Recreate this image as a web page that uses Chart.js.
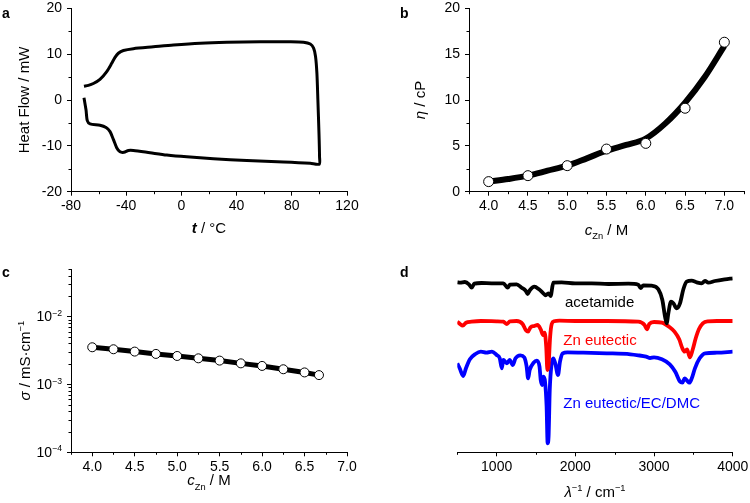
<!DOCTYPE html>
<html><head><meta charset="utf-8">
<script src="https://cdn.jsdelivr.net/npm/chart.js@4/dist/chart.umd.min.js"></script>
<style>
html,body{margin:0;padding:0;background:#fff;overflow:hidden;width:750px;height:503px;position:relative;}
.p{position:absolute;}
</style></head><body>
<div class="p" style="left:0;top:-10px;width:375px;height:260px"><canvas id="ca" width="375" height="260"></canvas></div>
<div class="p" style="left:375px;top:-10px;width:375px;height:260px"><canvas id="cb" width="375" height="260"></canvas></div>
<div class="p" style="left:0;top:250px;width:375px;height:253px"><canvas id="cc" width="375" height="253"></canvas></div>
<div class="p" style="left:375px;top:250px;width:395px;height:253px"><canvas id="cd" width="395" height="253"></canvas></div>
<script>
// ---------- Panel a: DSC heat flow loop ----------
const dscTemp = [-70.6,-69.1,-68.2,-66.2,-59.0,-54.6,-51.7,-49.3,-46.9,-44.5,-41.6,-38.4,-34.8,-22.7,-10.6,3.9,23.2,47.4,74.0,93.4,99.9,
  100.1,99.7,98.9,98.2,97.2,95.8,93.4,88.5,78.9,57.1,32.9,13.6,-5.8,-20.3,-34.8,-42.0,-45.7,-48.1,-50.5,-54.1,-59.0,-63.8,-67.4,-70.6];
const dscHeat = [0.5,-2.2,-4.5,-5.2,-5.5,-6.0,-6.9,-8.6,-10.4,-11.3,-11.4,-11.0,-11.0,-11.5,-12.0,-12.4,-12.8,-13.2,-13.5,-13.8,-14.0,
  -12.4,-7.3,0.0,5.8,9.5,11.3,12.2,12.6,12.7,12.7,12.6,12.4,12.0,11.6,11.2,10.8,10.2,9.3,8.0,6.2,4.5,3.6,3.2,3.0];
const aTempTicks = [-80,-40,0,40,80,120];
const aHeatTicks = [-20,-10,0,10,20];

// ---------- Panel b: viscosity ----------
const bConc = [4.0,4.5,5.0,5.5,6.0,6.5,7.0];
const bVisc = [1.1,1.75,2.84,4.65,5.27,9.1,16.3];
const bFitConc = [4.0,4.25,4.5,4.75,5.0,5.25,5.5,5.75,6.0,6.25,6.5,6.75,7.0];
const bFitVisc = [1.09,1.38,1.75,2.29,2.84,3.64,4.47,5.1,5.8,7.45,9.7,12.5,15.9];
const bConcTicks = [4.0,4.5,5.0,5.5,6.0,6.5,7.0];
const bViscTicks = [0,5,10,15,20];

// ---------- Panel c: conductivity ----------
const cConc = [4.0,4.25,4.5,4.75,5.0,5.25,5.5,5.75,6.0,6.25,6.5,6.67];
const cCond = [3.52e-3,3.29e-3,3.04e-3,2.81e-3,2.62e-3,2.42e-3,2.24e-3,2.04e-3,1.87e-3,1.67e-3,1.50e-3,1.37e-3];
const cConcTicks = [4.0,4.5,5.0,5.5,6.0,6.5,7.0];
const cCondTicks = [1e-4,1e-3,1e-2];

// ---------- Panel d: IR spectra (offset, arbitrary units) ----------
const acetamideX = [500,534,597,648,682,716,809,936,1085,1140,1169,1254,1318,1369,1394,1424,1479,1538,1593,1623,1657,1686,1720,1826,1996,2207,2419,2674,2801,2830,2864,2970,3055,3106,3140,3161,3182,3216,3246,3288,3330,3373,3415,3479,3542,3606,3648,3690,3775,3902,4000];
const acetamideY = [170,169.6,170.3,168,164.6,168.6,169.3,169,169,164.6,167.6,168,164.6,161.6,158.3,162.3,165.6,163,159,157,159,156.3,169.6,170,169,169,168.3,168.6,167.6,164.3,167,166.6,163,152.3,135.6,129,139,150.6,149,144,149,163,170.6,171.6,170,169,171.3,169.6,171.3,173,174];
const eutecticX = [500,534,570,610,680,800,1000,1085,1130,1170,1254,1330,1370,1400,1430,1480,1520,1560,1590,1610,1630,1645,1660,1680,1700,1730,1800,2000,2400,2800,2880,2910,2940,3000,3100,3200,3260,3320,3360,3390,3420,3455,3490,3530,3570,3620,3680,3800,4000];
const eutecticY = [130.6,128.3,126.6,129.6,130.6,131.3,131,130.6,128.3,131,131.3,128.3,122.3,120.6,125,126.3,127.3,123,117.3,119.6,105.6,82.3,87.3,115.6,128.3,131,131.6,131.3,131.3,130.6,127.3,123,128.3,130.3,129.6,125,120.6,113,104,100.6,103,95,102.3,114,123,129,131,131.3,131.3];
const mixtureX = [500,530,575,610,660,730,800,870,940,1000,1040,1065,1085,1130,1165,1205,1240,1300,1350,1380,1400,1420,1470,1510,1545,1560,1580,1595,1615,1635,1648,1660,1675,1700,1720,1745,1780,1805,1840,1900,2100,2400,2700,2800,2900,2950,3000,3100,3200,3270,3330,3360,3390,3420,3450,3480,3520,3580,3650,3800,4000];
const mixtureY = [89,84,76.3,84,93,98.3,100.6,99.6,100.6,97.3,94,84,92.3,89,92.3,87.3,94,97,95,86.3,74,82.3,89.6,91.6,85.6,72.3,67.3,75.6,70.6,45.6,9,15.6,62.3,89,94,89,77.3,90.6,99,100,99.6,99,98,97,95.6,94.3,95,93,88,80.6,70.6,69.6,74,71.6,69.6,74,84,94,99,99.6,100.6];
const dWaveTicks = [1000,2000,3000,4000];
const dSeriesNames = ['acetamide','Zn eutectic','Zn eutectic/EC/DMC'];

const FONT = "'Liberation Sans', Arial, Helvetica, sans-serif";
const pts = (xs, ys) => xs.map((x, i) => ({x, y: ys[i]}));
const range = (a, b, s) => { const r = []; for (let v = a; v <= b + 1e-9; v += s) r.push(+v.toFixed(4)); return r; };

function rich(ctx, segs, x, y, rotate, size, align) {
  ctx.save();
  ctx.translate(x, y);
  if (rotate) ctx.rotate(-Math.PI / 2);
  const fontOf = s => `${s.style || ''} ${s.kind ? size * 0.62 : size}px ${FONT}`;
  let total = 0;
  segs.forEach(s => { ctx.font = fontOf(s); s.w = ctx.measureText(s.t).width; total += s.w; });
  let cx = align === 'right' ? -total : -total / 2;
  ctx.textBaseline = 'alphabetic'; ctx.textAlign = 'left';
  segs.forEach(s => {
    ctx.font = fontOf(s);
    ctx.fillStyle = s.color || '#000';
    const dy = s.kind === 'sub' ? size * 0.3 : s.kind === 'sup' ? -size * 0.42 : 0;
    ctx.fillText(s.t, cx, dy); cx += s.w;
  });
  ctx.restore();
}

const decor = {
  id: 'decor',
  afterDraw(chart, args, o) {
    const ctx = chart.ctx, ca = chart.chartArea;
    ctx.save();
    ctx.strokeStyle = '#000'; ctx.lineWidth = 1;
    (o.minor || []).forEach(m => {
      const s = chart.scales[m.axis];
      m.values.forEach(v => {
        const p = Math.round(s.getPixelForValue(v)) + 0.5;
        ctx.beginPath();
        if (m.axis === 'x') { ctx.moveTo(p, ca.bottom); ctx.lineTo(p, ca.bottom + 2.5); }
        else { ctx.moveTo(ca.left, p); ctx.lineTo(ca.left - 2.5, p); }
        ctx.stroke();
      });
    });
    ctx.restore();
    if (o.xTitle) rich(ctx, o.xTitle, (ca.left + ca.right) / 2, ca.bottom + o.xOff, false, 15);
    if (o.yTitle) rich(ctx, o.yTitle, ca.left - o.yOff, (ca.top + ca.bottom) / 2, true, 15);
    if (o.logLabels) {
      const s = chart.scales.y;
      o.logLabels.forEach(v => {
        const p = s.getPixelForValue(v);
        const e = Math.round(Math.log10(v));
        rich(ctx, [{t: '10'}, {t: '\u2212' + Math.abs(e), kind: 'sup'}], ca.left - 9, p + 5, false, 14, 'right');
      });
    }
    if (o.label) {
      ctx.save();
      ctx.font = `bold 14px ${FONT}`; ctx.fillStyle = '#000'; ctx.textBaseline = 'alphabetic';
      ctx.fillText(o.label.t, o.label.x - o.off.x, o.label.y - o.off.y);
      ctx.restore();
    }
    (o.notes || []).forEach(n => {
      ctx.save();
      ctx.font = `15px ${FONT}`; ctx.fillStyle = n.color; ctx.textBaseline = 'alphabetic';
      ctx.fillText(n.t, chart.scales.x.getPixelForValue(n.x), chart.scales.y.getPixelForValue(n.y));
      ctx.restore();
    });
  }
};

function axis(o) {
  return {
    type: o.type || 'linear', position: o.position, min: o.min, max: o.max, display: o.display !== false,
    border: {display: true, color: '#000', width: 1},
    grid: {display: true, drawOnChartArea: false, drawTicks: true, tickLength: 4, tickColor: '#000', tickWidth: 1},
    ticks: {display: o.labels !== false, color: '#000', font: {family: FONT, size: 14}, padding: o.pad, autoSkip: false, maxRotation: 0,
      callback: o.fmt || (v => String(v))},
    afterBuildTicks: s => { s.ticks = o.ticks.map(v => ({value: v})); },
    afterFit: s => { if (o.position === 'left') s.width = 40; else s.height = 30; }
  };
}

function make(id, datasets, scales, padding, decorOpts) {
  return new Chart(document.getElementById(id), {
    type: 'line',
    data: {datasets},
    options: {
      responsive: false, animation: false, devicePixelRatio: 1, events: [],
      layout: {padding},
      scales,
      plugins: {legend: {display: false}, tooltip: {enabled: false}, decor: decorOpts}
    },
    plugins: [decor]
  });
}

// Panel a
make('ca', [{data: pts(dscTemp, dscHeat), borderColor: '#000', borderWidth: 3, pointRadius: 0, tension: 0.25, fill: false}],
  {x: axis({position: 'bottom', min: -80, max: 120, ticks: aTempTicks, pad: 2}),
   y: axis({position: 'left', min: -20, max: 20, ticks: aHeatTicks, pad: 5})},
  {left: 31, right: 28, top: 18.3, bottom: 28.3},
  {minor: [{axis: 'x', values: range(-60, 100, 40)}, {axis: 'y', values: range(-15, 15, 10)}],
   xTitle: [{t: 't', style: 'bold italic'}, {t: ' / \u00B0C'}], xOff: 41.5,
   yTitle: [{t: 'Heat Flow / mW'}], yOff: 42.5,
   label: {t: 'a', x: 2, y: 18}, off: {x: 0, y: -10}});

// Panel b
make('cb', [
  {data: pts(bConc, bVisc), showLine: false, pointRadius: 5, pointBackgroundColor: '#fff', pointBorderColor: '#000', pointBorderWidth: 1, order: 0},
  {data: pts(bFitConc, bFitVisc), borderColor: '#000', borderWidth: 6, pointRadius: 0, cubicInterpolationMode: 'monotone', order: 1}],
  {x: axis({position: 'bottom', min: 3.75, max: 7.25, ticks: bConcTicks, pad: 2, fmt: v => v.toFixed(1)}),
   y: axis({position: 'left', min: 0, max: 20, ticks: bViscTicks, pad: 5})},
  {left: 54, right: 5, top: 18.3, bottom: 28.3},
  {minor: [{axis: 'x', values: range(3.75, 7.25, 0.5)}, {axis: 'y', values: range(2.5, 17.5, 5)}],
   xTitle: [{t: 'c', style: 'italic'}, {t: 'Zn', kind: 'sub'}, {t: ' / M'}], xOff: 43,
   yTitle: [{t: '\u03B7', style: 'italic'}, {t: ' / cP'}], yOff: 44,
   label: {t: 'b', x: 400, y: 18}, off: {x: 375, y: -10}});

// Panel c
const cMinor = [];
[1e-4, 1e-3, 1e-2].forEach(d => { for (let k = 2; k <= 9; k++) if (k * d <= 0.05 + 1e-12) cMinor.push(k * d); });
make('cc', [{data: pts(cConc, cCond), borderColor: '#000', borderWidth: 5, pointRadius: 4.5, pointBackgroundColor: '#fff', pointBorderColor: '#000', pointBorderWidth: 1, tension: 0}],
  {x: axis({position: 'bottom', min: 3.75, max: 7.0, ticks: cConcTicks, pad: 2, fmt: v => v.toFixed(1)}),
   y: axis({type: 'logarithmic', position: 'left', min: 1e-4, max: 0.05, ticks: cCondTicks, pad: 5, labels: false})},
  {left: 31, right: 28, top: 19, bottom: 20.7},
  {minor: [{axis: 'x', values: range(3.75, 6.75, 0.5)}, {axis: 'y', values: cMinor}],
   logLabels: cCondTicks,
   xTitle: [{t: 'c', style: 'italic'}, {t: 'Zn', kind: 'sub'}, {t: ' / M'}], xOff: 32.7,
   yTitle: [{t: '\u03C3', style: 'italic'}, {t: ' / mS\u00B7cm'}, {t: '\u22121', kind: 'sup'}], yOff: 41,
   label: {t: 'c', x: 2, y: 277}, off: {x: 0, y: 250}});

// Panel d
make('cd', [
  {data: pts(acetamideX, acetamideY), borderColor: '#000', borderWidth: 3.8, pointRadius: 0, cubicInterpolationMode: 'monotone'},
  {data: pts(eutecticX, eutecticY), borderColor: '#ff0000', borderWidth: 3.8, pointRadius: 0, cubicInterpolationMode: 'monotone'},
  {data: pts(mixtureX, mixtureY), borderColor: '#0000ff', borderWidth: 3.8, pointRadius: 0, cubicInterpolationMode: 'monotone'}],
  {x: axis({position: 'bottom', min: 500, max: 4000, ticks: dWaveTicks, pad: 2}),
   y: {type: 'linear', display: false, min: 0, max: 183.3}},
  {left: 82.3, right: 37.3, top: 19, bottom: 20.7},
  {minor: [{axis: 'x', values: range(500, 3500, 1000)}],
   xTitle: [{t: '\u03BB', style: 'italic'}, {t: '\u22121', kind: 'sup'}, {t: ' / cm'}, {t: '\u22121', kind: 'sup'}], xOff: 45,
   label: {t: 'd', x: 400, y: 277}, off: {x: 375, y: 250},
   notes: [{t: dSeriesNames[0], x: 1869, y: 145.6, color: '#000'},
           {t: dSeriesNames[1], x: 1847, y: 107.3, color: '#ff0000'},
           {t: dSeriesNames[2], x: 1847, y: 44.3, color: '#0000ff'}]});
</script>
</body></html>
